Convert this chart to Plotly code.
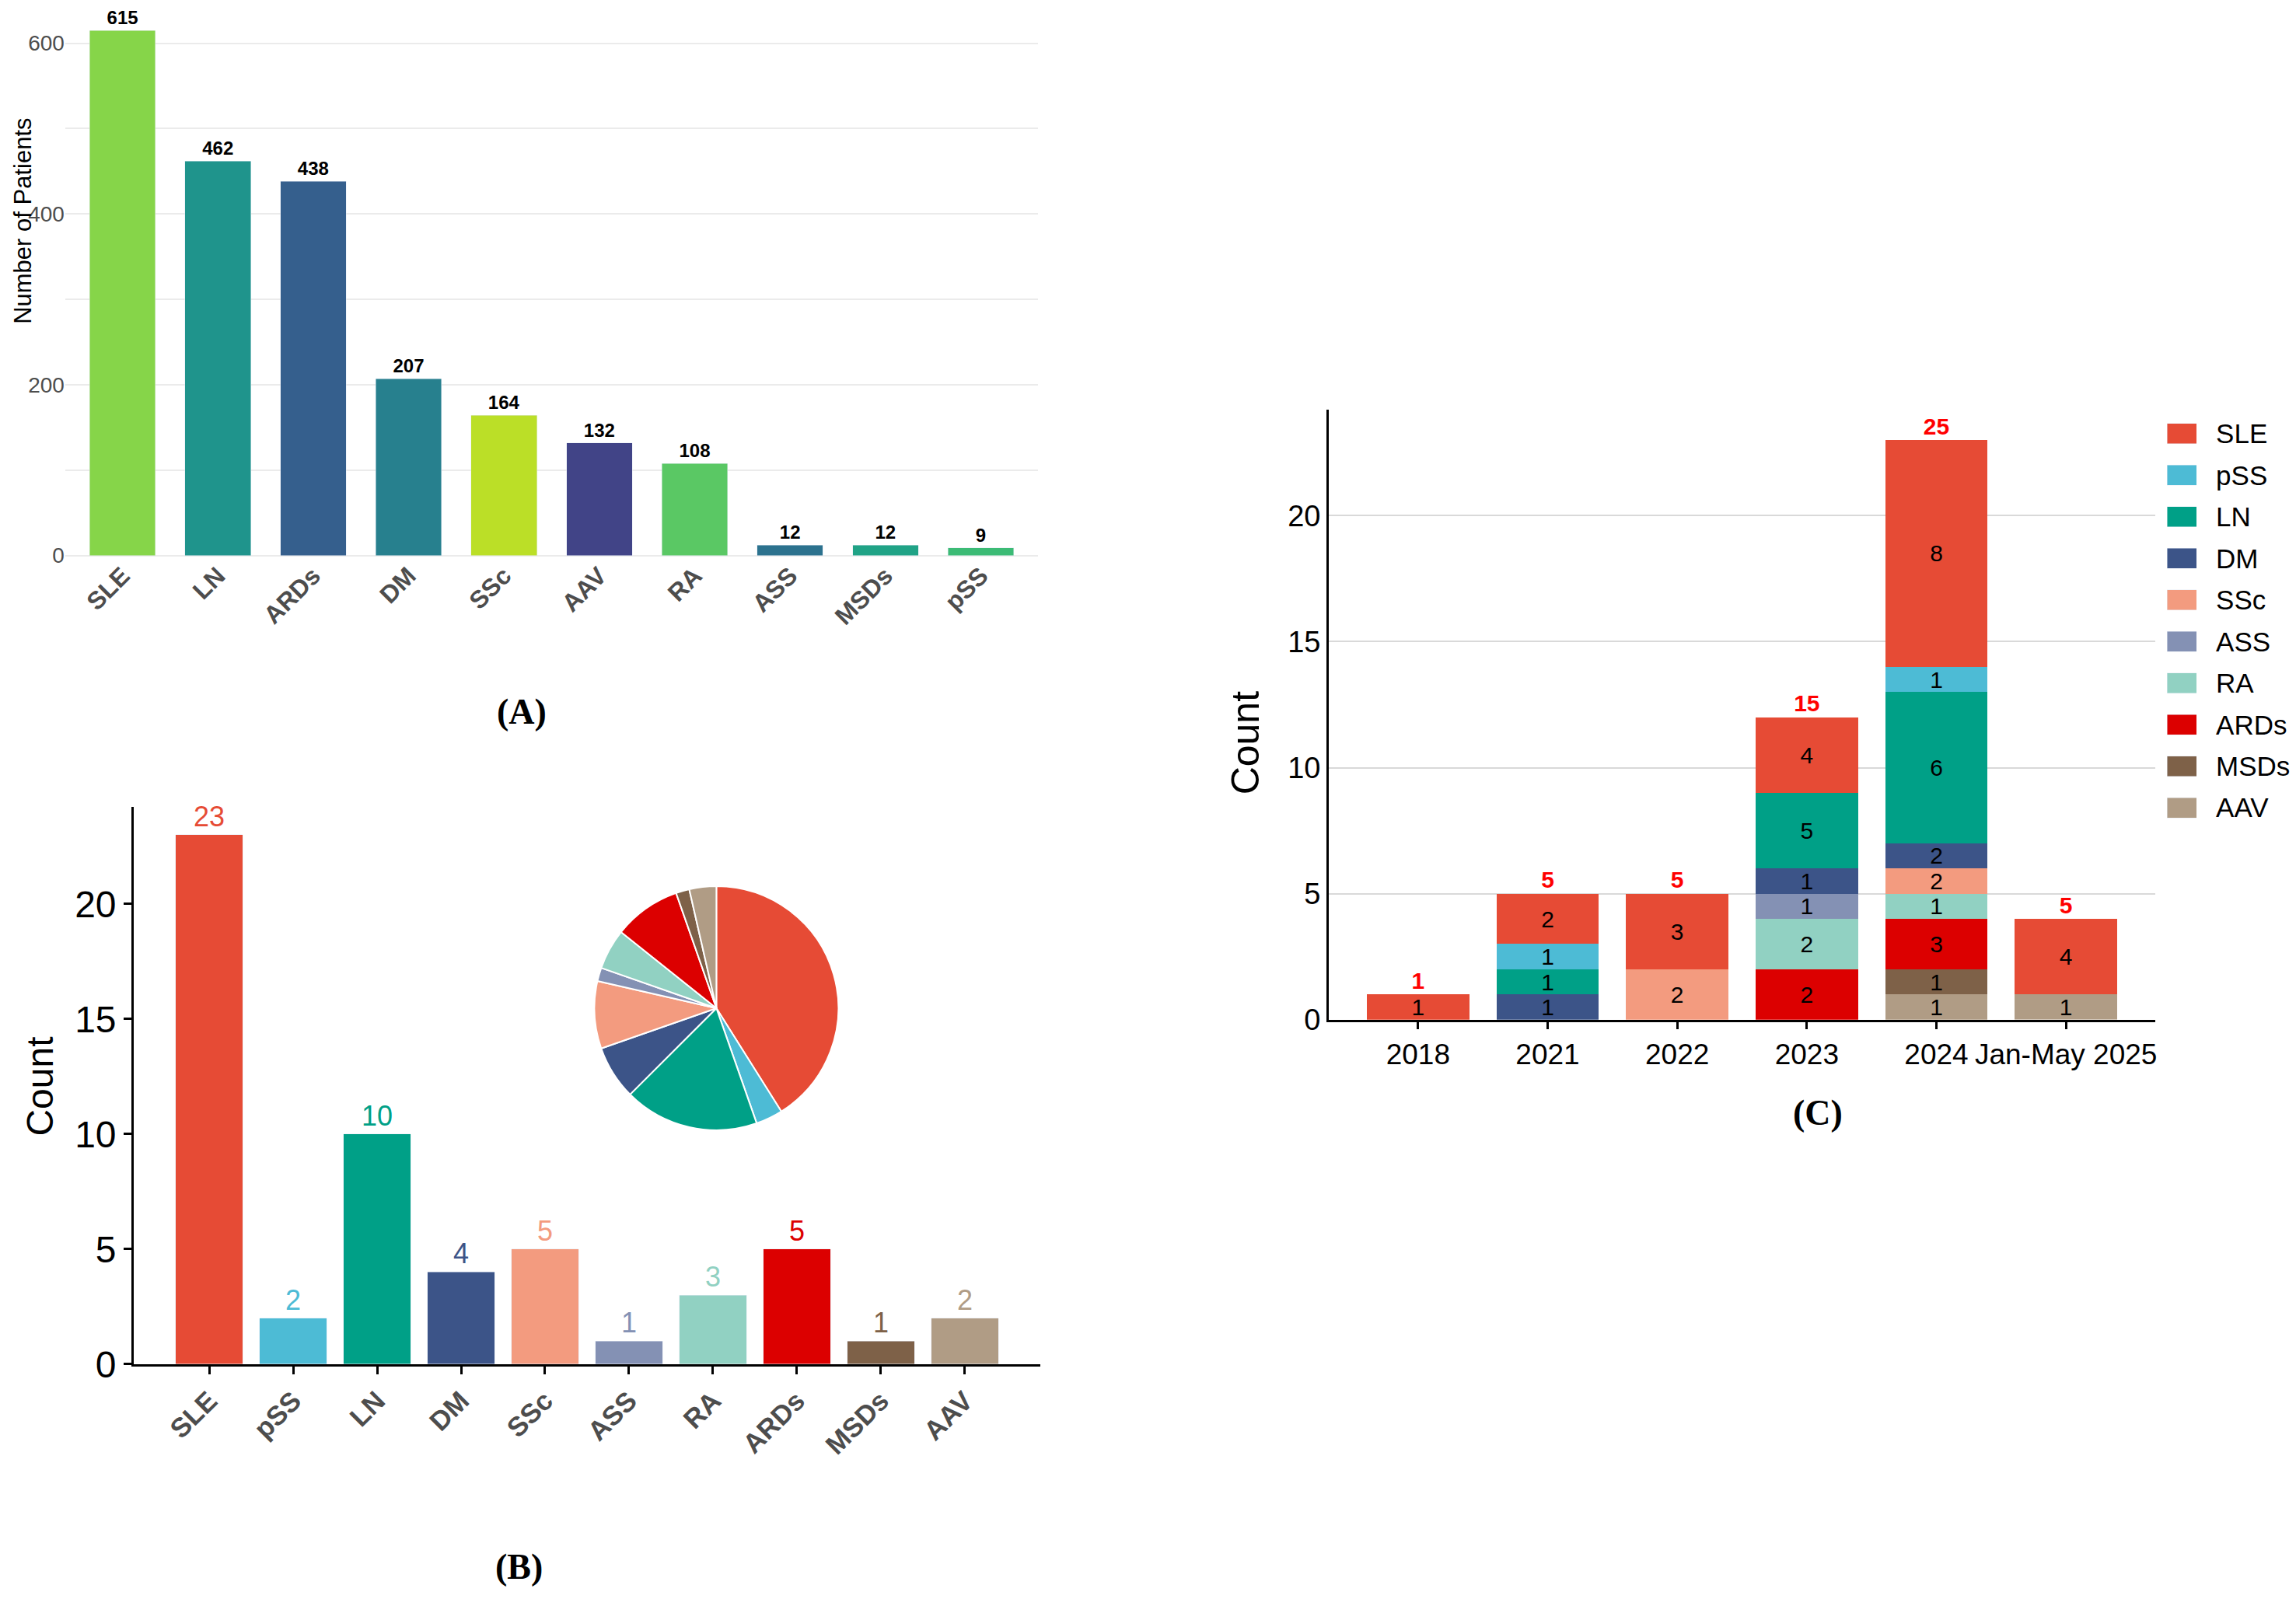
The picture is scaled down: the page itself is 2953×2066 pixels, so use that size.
import plotly.graph_objects as go

# panel A: all patients by disease
a_diseases = ["SLE", "LN", "ARDs", "DM", "SSc", "AAV", "RA", "ASS", "MSDs", "pSS"]
a_patients = [615, 462, 438, 207, 164, 132, 108, 12, 12, 9]
a_colors = ["#86D549", "#1F948C", "#355F8D", "#27808E", "#BBDF27",
            "#414487", "#5AC864", "#2C728E", "#20A386", "#3CBB75"]

# panel B: counts per disease (bar + pie inset)
b_diseases = ["SLE", "pSS", "LN", "DM", "SSc", "ASS", "RA", "ARDs", "MSDs", "AAV"]
b_counts = [23, 2, 10, 4, 5, 1, 3, 5, 1, 2]

npg = {
    "SLE": "#E64B35", "pSS": "#4DBBD5", "LN": "#00A087", "DM": "#3C5488",
    "SSc": "#F39B7F", "ASS": "#8491B4", "RA": "#91D1C2", "ARDs": "#DC0000",
    "MSDs": "#7E6148", "AAV": "#B09C85",
}
b_colors = [npg[d] for d in b_diseases]

# panel C: per year, stacked (drawn heights and printed labels as in the figure)
c_years = ["2018", "2021", "2022", "2023", "2024", "Jan-May 2025"]
c_heights = {
    "SLE":  [1, 2, 3, 3, 9, 3],
    "pSS":  [0, 1, 0, 0, 1, 0],
    "LN":   [0, 1, 0, 3, 6, 0],
    "DM":   [0, 1, 0, 1, 1, 0],
    "SSc":  [0, 0, 2, 0, 1, 0],
    "ASS":  [0, 0, 0, 1, 0, 0],
    "RA":   [0, 0, 0, 2, 1, 0],
    "ARDs": [0, 0, 0, 2, 2, 0],
    "MSDs": [0, 0, 0, 0, 1, 0],
    "AAV":  [0, 0, 0, 0, 1, 1],
}
c_labels = {
    "SLE":  ["1", "2", "3", "4", "8", "4"],
    "pSS":  ["", "1", "", "", "1", ""],
    "LN":   ["", "1", "", "5", "6", ""],
    "DM":   ["", "1", "", "1", "2", ""],
    "SSc":  ["", "", "2", "", "2", ""],
    "ASS":  ["", "", "", "1", "", ""],
    "RA":   ["", "", "", "2", "1", ""],
    "ARDs": ["", "", "", "2", "3", ""],
    "MSDs": ["", "", "", "", "1", ""],
    "AAV":  ["", "", "", "", "1", "1"],
}
c_totals = ["1", "5", "5", "15", "25", "5"]
legend_order = ["SLE", "pSS", "LN", "DM", "SSc", "ASS", "RA", "ARDs", "MSDs", "AAV"]

W, H = 2953, 2066
FONT = "Liberation Sans, Arial, sans-serif"
SERIF = "Liberation Serif, Times New Roman, serif"


def xdom(x0, x1):
    return [x0 / W, x1 / W]


def ydom(top, bottom):
    return [1 - bottom / H, 1 - top / H]


def note(text, x, y, size, angle=0, family=FONT, xa="center", ya="middle"):
    return dict(text=text, x=x / W, y=1 - y / H, xref="paper", yref="paper",
                xanchor=xa, yanchor=ya, textangle=angle,
                showarrow=False, font=dict(size=size, family=family, color="black"))


fig = go.Figure()

# A
fig.add_trace(go.Bar(
    x=a_diseases, y=a_patients, marker_color=a_colors, width=0.69,
    text=a_patients, textposition="outside", constraintext="none",
    textfont=dict(size=24, color="black", weight="bold"),
    cliponaxis=False, xaxis="x", yaxis="y", showlegend=False,
))

# B
fig.add_trace(go.Bar(
    x=b_diseases, y=b_counts, marker_color=b_colors, width=0.8,
    text=b_counts, textposition="outside", constraintext="none",
    textfont=dict(size=36, color=b_colors),
    cliponaxis=False, xaxis="x2", yaxis="y2", showlegend=False,
))
fig.add_trace(go.Pie(
    labels=b_diseases, values=b_counts, sort=False,
    direction="clockwise", rotation=0, textinfo="none",
    marker=dict(colors=b_colors, line=dict(color="white", width=2)),
    domain=dict(x=xdom(755, 1073), y=ydom(1147, 1465)),
    showlegend=False,
))

# C (stack from bottom: AAV ... SLE)
for d in reversed(legend_order):
    fig.add_trace(go.Bar(
        x=c_years, y=c_heights[d], text=c_labels[d],
        textposition="inside", insidetextanchor="middle", textangle=0,
        constraintext="none",
        textfont=dict(size=30, color="black"),
        insidetextfont=dict(size=30, color="black"),
        marker=dict(color=npg[d], line=dict(width=0)),
        width=0.79, xaxis="x3", yaxis="y3", showlegend=False, name=d,
    ))

stack_top = [sum(c_heights[d][i] for d in legend_order) for i in range(len(c_years))]
fig.add_trace(go.Scatter(
    x=c_years, y=stack_top, mode="text", text=c_totals,
    textposition="top center",
    textfont=dict(size=30, color="#FF0000", weight="bold"),
    cliponaxis=False, xaxis="x3", yaxis="y3", showlegend=False,
))

# legend keys for C
fig.add_trace(go.Bar(
    x=[1] * len(legend_order), y=legend_order, orientation="h",
    marker_color=[npg[d] for d in legend_order], width=0.48,
    xaxis="x4", yaxis="y4", showlegend=False, hoverinfo="skip",
))

fig.update_layout(
    width=W, height=H,
    margin=dict(l=0, r=0, t=0, b=0),
    paper_bgcolor="white", plot_bgcolor="white",
    barmode="stack",
    font=dict(family=FONT, color="black"),
    xaxis=dict(
        domain=xdom(76, 1328), anchor="y", type="category", range=[-0.6, 9.6],
        showgrid=False, showline=False, ticks="", tickangle=-45,
        tickfont=dict(size=32, color="#4D4D4D", weight="bold"),
    ),
    yaxis=dict(
        domain=ydom(14, 716), anchor="x", range=[0, 630.7],
        tick0=0, dtick=200, ticks="",
        showgrid=True, gridcolor="#EBEBEB", gridwidth=2,
        zeroline=True, zerolinecolor="#EBEBEB", zerolinewidth=2,
        minor=dict(dtick=100, tick0=0, showgrid=True, gridcolor="#EBEBEB", gridwidth=2),
        tickfont=dict(size=28, color="#4D4D4D"),
    ),
    xaxis2=dict(
        domain=xdom(164, 1331), anchor="y2", type="category", range=[-0.9, 9.9],
        showgrid=False, showline=True, linecolor="black", linewidth=2.5,
        ticks="outside", ticklen=10, tickwidth=2.5, tickcolor="black",
        tickangle=-45, tickfont=dict(size=35, color="#4D4D4D", weight="bold"),
    ),
    yaxis2=dict(
        domain=ydom(1044, 1770), anchor="x2", range=[0, 24.2],
        tick0=0, dtick=5, showgrid=False, zeroline=False,
        showline=True, linecolor="black", linewidth=2.5,
        ticks="outside", ticklen=10, tickwidth=2.5, tickcolor="black",
        tickfont=dict(size=48, color="black"),
    ),
    xaxis3=dict(
        domain=xdom(1702, 2766), anchor="y3", type="category", range=[-0.69, 5.69],
        showgrid=False, showline=True, linecolor="black", linewidth=2.5,
        ticks="outside", ticklen=10, tickwidth=2.5, tickcolor="black",
        tickangle=0, tickfont=dict(size=37, color="black"),
    ),
    yaxis3=dict(
        domain=ydom(526, 1321), anchor="x3", range=[0, 24.2],
        tick0=0, dtick=5, showgrid=True, gridcolor="#D9D9D9", gridwidth=2,
        zeroline=False, showline=True, linecolor="black", linewidth=2.5,
        ticks="", tickfont=dict(size=38, color="black"),
    ),
    xaxis4=dict(domain=xdom(2781, 2819), anchor="y4", range=[0, 1], visible=False),
    yaxis4=dict(
        domain=ydom(530, 1072), anchor="x4", type="category", range=[9.5, -0.5],
        side="right", showgrid=False, showline=False, zeroline=False, ticks="",
        ticklabelstandoff=24, tickfont=dict(size=35, color="black"),
    ),
    annotations=[
        note("Number of Patients", 2, 280, 31, angle=-90, xa="left"),
        note("Count", 44, 1408, 48, angle=-90),
        note("Count", 1596, 960, 50, angle=-90),
        note("<b>(A)</b>", 663, 920, 46, family=SERIF),
        note("<b>(B)</b>", 660, 2062, 46, family=SERIF, ya="bottom"),
        note("<b>(C)</b>", 2332, 1442, 46, family=SERIF),
    ],
)

fig.write_html("out.html")
